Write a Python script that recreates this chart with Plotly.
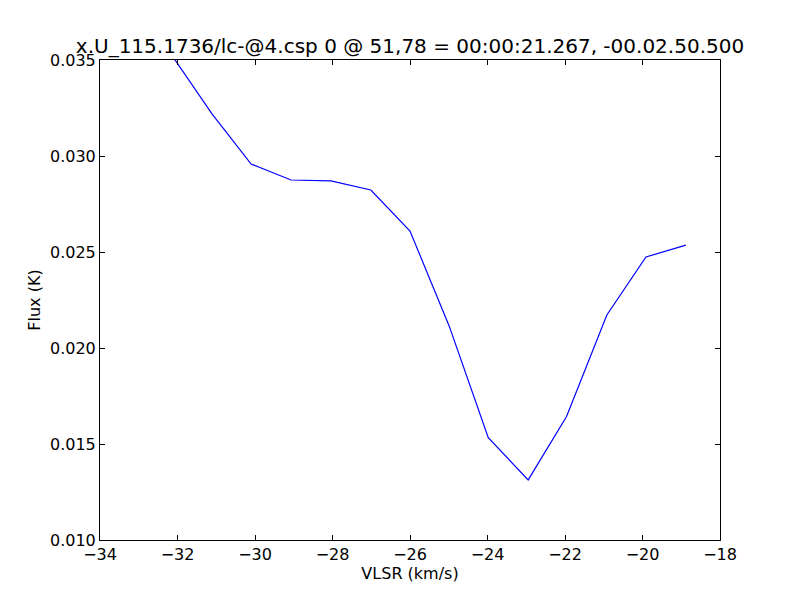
import plotly.graph_objects as go

vlsr = [-32.13, -31.11, -30.10, -29.07, -28.04, -27.01, -26.00, -24.99, -23.98, -22.95, -21.96, -20.92, -19.91, -18.88]
flux = [0.0352, 0.03219, 0.02958, 0.02875, 0.02870, 0.02823, 0.02609, 0.02115, 0.01533, 0.01313, 0.01643, 0.02172, 0.02474, 0.02536]

x_ticks = [-34, -32, -30, -28, -26, -24, -22, -20, -18]
y_ticks = [0.010, 0.015, 0.020, 0.025, 0.030, 0.035]

title = "x.U_115.1736/lc-@4.csp 0 @ 51,78 = 00:00:21.267, -00.02.50.500"

fig = go.Figure()
fig.add_trace(go.Scatter(x=vlsr, y=flux, mode="lines",
                         line=dict(color="#0000ff", width=1.2), showlegend=False))

font = dict(family="DejaVu Sans", size=16, color="black")
axis_common = dict(showgrid=False, zeroline=False, showline=True, linecolor="black",
                   linewidth=1, mirror="allticks", ticks="inside", ticklen=5,
                   tickcolor="black", tickwidth=1, tickfont=font)

fig.update_layout(
    width=800, height=600,
    paper_bgcolor="white", plot_bgcolor="white",
    margin=dict(l=92, r=88, t=52, b=68),
    font=font,
    title=dict(text=title, x=0.5025, xanchor="center", y=0.925, yanchor="bottom",
               font=dict(family="DejaVu Sans", size=20, color="black")),
    xaxis=dict(range=[-34, -18], tickvals=x_ticks,
               title=dict(text="VLSR (km/s)", font=font, standoff=4), **axis_common),
    yaxis=dict(range=[0.010, 0.035], tickvals=y_ticks, tickformat=".3f",
               title=dict(text="Flux (K)", font=font, standoff=5), **axis_common),
)

fig.write_html("out.html")
